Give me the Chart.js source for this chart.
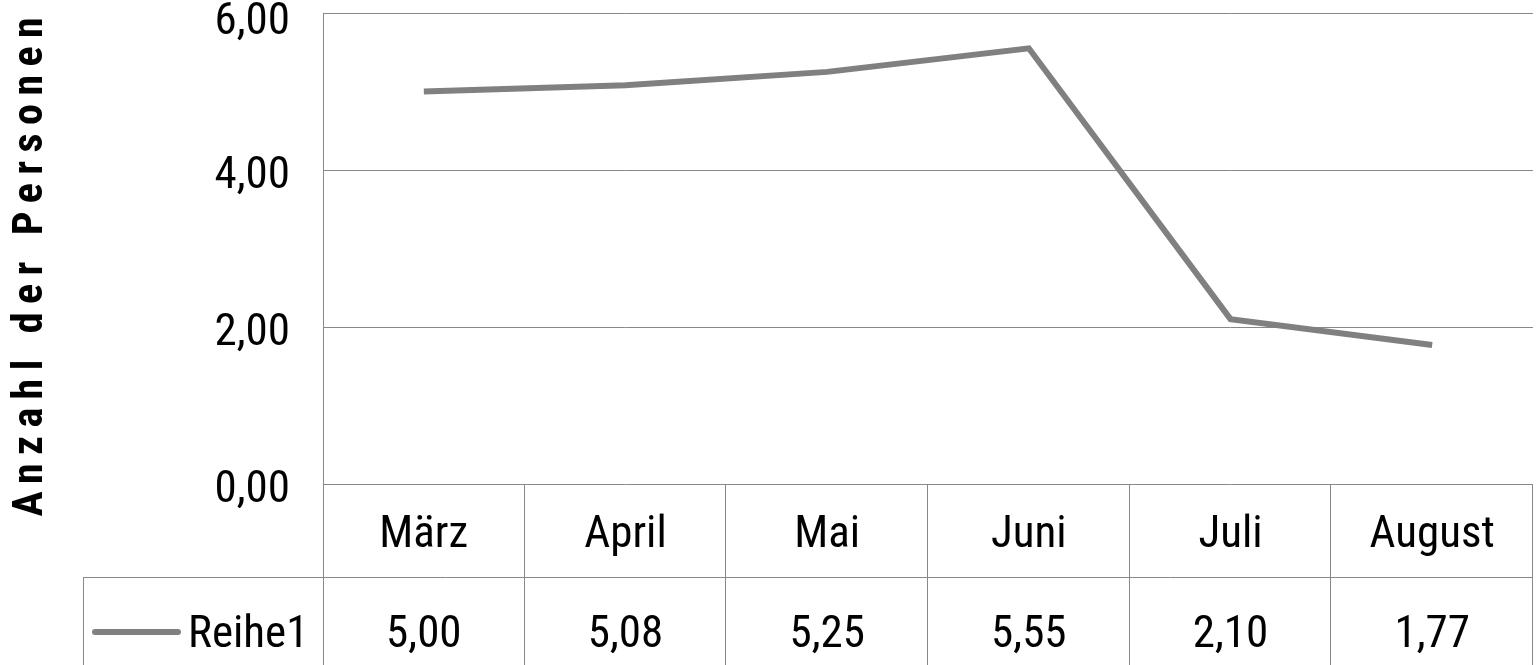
<!DOCTYPE html>
<html>
<head>
<meta charset="utf-8">
<script src="https://cdn.jsdelivr.net/npm/chart.js@4.4.0/dist/chart.umd.min.js"></script>
<style>
    html, body { margin: 0; padding: 0; background: #fff; }
    canvas { display: block; }
</style>
</head>
<body>
<canvas id="lineChart" width="1536" height="665"></canvas>
<script>
const months = ['März', 'April', 'Mai', 'Juni', 'Juli', 'August'];
const reihe1 = [5.00, 5.08, 5.25, 5.55, 2.10, 1.77];
const yTicks = [0, 2, 4, 6];
const seriesName = 'Reihe1';
const yTitle = 'Anzahl der Personen';

const FONT = '"Liberation Sans Narrow", "Roboto Condensed", "Liberation Sans", sans-serif';
const LINE_GRAY = '#808080';
const GRID_GRAY = '#888888';

const fmt = v => v.toFixed(2).replace('.', ',');

// Excel-like data table, y labels and rotated axis title
const tablePlugin = {
    id: 'dataTable',
    afterDraw(chart) {
        const ctx = chart.ctx;
        const area = chart.chartArea;
        const x = chart.scales.x;
        const y = chart.scales.y;
        const colW = (x.right - x.left) / months.length;
        const rowTop = area.bottom;
        const rowMid = rowTop + 93;
        const bottom = chart.height;
        const legendLeft = 83;

        ctx.save();
        ctx.strokeStyle = GRID_GRAY;
        ctx.lineWidth = 1;
        ctx.beginPath();
        // axis line
        ctx.moveTo(Math.round(area.left) + 0.5, area.top);
        ctx.lineTo(Math.round(area.left) + 0.5, bottom);
        // column dividers
        for (let i = 1; i <= months.length; i++) {
            const px = Math.round(x.left + i * colW) - 0.5;
            ctx.moveTo(px, rowTop);
            ctx.lineTo(px, bottom);
        }
        // row divider
        ctx.moveTo(legendLeft, rowMid + 0.5);
        ctx.lineTo(x.right, rowMid + 0.5);
        // legend cell left border
        ctx.moveTo(legendLeft + 0.5, rowMid);
        ctx.lineTo(legendLeft + 0.5, bottom);
        ctx.stroke();

        ctx.fillStyle = '#000';
        ctx.font = '45px ' + FONT;
        ctx.textBaseline = 'alphabetic';

        // category row + value row
        ctx.textAlign = 'center';
        months.forEach((m, i) => {
            const cx = x.getPixelForValue(i);
            ctx.fillText(m, cx, rowTop + 63);
            ctx.fillText(fmt(reihe1[i]), cx, rowTop + 163);
        });

        // legend key
        ctx.strokeStyle = LINE_GRAY;
        ctx.lineWidth = 6;
        ctx.lineCap = 'round';
        ctx.beginPath();
        ctx.moveTo(95, rowTop + 148);
        ctx.lineTo(178, rowTop + 148);
        ctx.stroke();
        ctx.textAlign = 'left';
        ctx.fillText(seriesName, 188, rowTop + 163);

        // y tick labels
        ctx.textAlign = 'right';
        yTicks.forEach(t => {
            const py = y.getPixelForValue(t);
            ctx.fillText(fmt(t), 290, Math.max(py + 18, 34));
        });

        // rotated y title
        ctx.font = 'bold 42px ' + FONT;
        const natural = ctx.measureText(yTitle).width;
        const spacing = (500 - natural) / (yTitle.length - 1);
        ctx.letterSpacing = spacing.toFixed(1) + 'px';
        ctx.translate(42, 267);
        ctx.rotate(-Math.PI / 2);
        ctx.textAlign = 'center';
        ctx.fillText(yTitle, spacing / 2, 0);
        ctx.restore();
    }
};

new Chart(document.getElementById('lineChart'), {
    type: 'line',
    data: {
        labels: months,
        datasets: [{
            label: seriesName,
            data: reihe1,
            borderColor: LINE_GRAY,
            borderWidth: 6,
            pointRadius: 0,
            tension: 0,
            fill: false
        }]
    },
    options: {
        responsive: false,
        animation: false,
        devicePixelRatio: 1,
        layout: {
            padding: { left: 0, right: 3, top: 13, bottom: 181 }
        },
        plugins: {
            legend: { display: false },
            tooltip: { enabled: false }
        },
        scales: {
            x: {
                display: false,
                offset: true
            },
            y: {
                min: 0,
                max: 6,
                ticks: { stepSize: 2, display: false },
                grid: { color: GRID_GRAY, lineWidth: 1, drawTicks: false },
                border: { display: false },
                afterFit(scale) {
                    scale.width = 323;
                    scale.paddingTop = 0;
                    scale.paddingBottom = 0;
                }
            }
        }
    },
    plugins: [tablePlugin]
});
</script>
</body>
</html>
